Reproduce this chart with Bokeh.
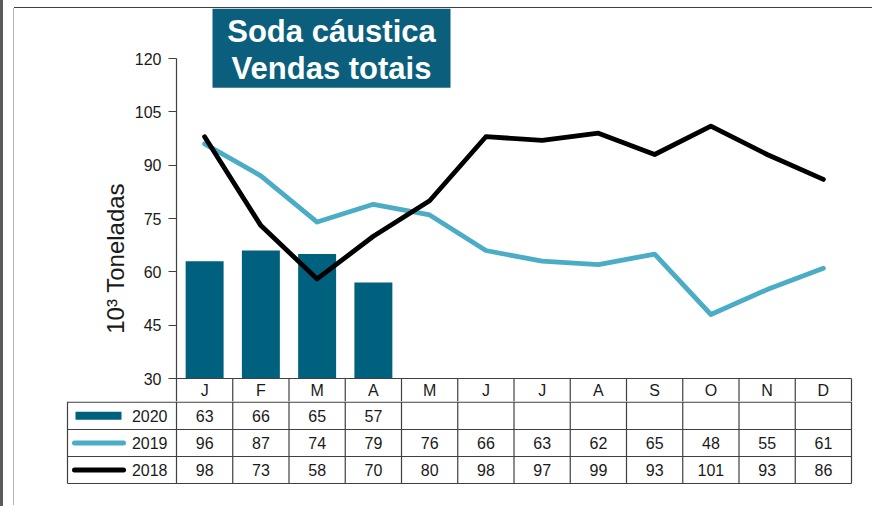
import numpy as np
from bokeh.plotting import figure
from bokeh.models import Range1d, FixedTicker, Div, Spacer
from bokeh.layouts import column, row
from bokeh.embed import file_html
from bokeh.resources import INLINE
from bokeh.core.properties import value

# ---------------- data ----------------
months = ["J", "F", "M", "A", "M", "J", "J", "A", "S", "O", "N", "D"]
sales_2020 = [63, 66, 65, 57]
sales_2019 = [96, 87, 74, 79, 76, 66, 63, 62, 65, 48, 55, 61]
sales_2018 = [98, 73, 58, 70, 80, 98, 97, 99, 93, 101, 93, 86]
years = ["2020", "2019", "2018"]
y_ticks = [30, 45, 60, 75, 90, 105, 120]
title_lines = ["Soda cáustica", "Vendas totais"]
y_label = "10³ Toneladas"

# ---------------- style ----------------
FONT = "Liberation Sans"
TEAL = "#00617f"
TITLE_BG = "#0b5f7c"
LIGHT = "#4bacc6"
DARK = "#000000"
RULE = "#404040"
TXT = "#1a1a1a"
FS = "16px"

PX_X = 56.25            # pixels per month
PX_Y = 320 / 90         # pixels per y unit
xc = np.arange(len(months)) + 0.5
PAGE_L = 14             # page x where the figures start
PAGE_R = 872
AX_X = 176              # page x of y axis
FIG_W = PAGE_R - PAGE_L

def px2x(px):
    return (px - AX_X) / PX_X

# ---------------- chart (incl. month header row) ----------------
top_h = 393                      # page y 8 .. 401
y_end = 120 + 50 / PX_Y          # page y 8
y_start = 30 - 23 / PX_Y         # page y 401
p = figure(width=FIG_W, height=top_h, x_range=Range1d(0, px2x(PAGE_R)),
           y_range=Range1d(y_start, y_end),
           output_backend="svg", toolbar_location=None, x_axis_location=None,
           min_border_left=AX_X - PAGE_L, min_border_right=0,
           min_border_top=0, min_border_bottom=0, margin=0)
p.frame_align = False
p.outline_line_color = None
p.xgrid.visible = False
p.ygrid.visible = False

ax = p.yaxis[0]
ax.ticker = FixedTicker(ticks=y_ticks)
ax.bounds = (y_start, 120)
ax.major_tick_out = 8
ax.major_tick_in = 0
ax.minor_tick_line_color = None
ax.axis_line_color = RULE
ax.axis_line_width = 1.2
ax.major_tick_line_color = RULE
ax.major_label_text_font = FONT
ax.major_label_text_font_size = FS
ax.major_label_text_color = TXT
ax.major_label_standoff = 7
# non-breaking spaces shift the centred label down to where the original sits
ax.axis_label = y_label + "\u00a0" * 16
ax.axis_label_text_font = FONT
ax.axis_label_text_font_size = "24px"
ax.axis_label_text_font_style = "normal"
ax.axis_label_text_color = TXT
ax.axis_label_standoff = 3

p.vbar(x=xc[:len(sales_2020)], top=sales_2020, bottom=30, width=0.675,
       fill_color=TEAL, line_color=None)
p.line(xc, sales_2019, line_color=LIGHT, line_width=4.8, line_cap="round", line_join="round")
p.line(xc, sales_2018, line_color=DARK, line_width=4.8, line_cap="round", line_join="round")

# title box
p.quad(left=[px2x(212)], right=[px2x(450)], top=[y_end], bottom=[111.8],
       fill_color=TITLE_BG, line_color=None)
p.text(x=[px2x(331)] * 2, y=[127.6, 117.2], text=title_lines, text_align="center",
       text_baseline="middle", text_font=value(FONT), text_font_style="bold",
       text_font_size="31px", text_color="white")

# month header row of the data table
p.segment(x0=[0], y0=[30], x1=[12], y1=[30], line_color=RULE, line_width=1.2)
hv = list(range(1, 13))
p.segment(x0=hv, y0=[30] * 12, x1=hv, y1=[y_start] * 12, line_color=RULE, line_width=1.2)
p.text(x=xc, y=[30 - 11.5 / PX_Y] * 12, text=months, text_align="center", text_baseline="middle",
       text_font=value(FONT), text_font_size=FS, text_color=TXT)

# ---------------- data table body ----------------
tab_h = 104                      # page y 401 .. 505
t = figure(width=FIG_W, height=tab_h, x_range=Range1d(px2x(PAGE_L), px2x(PAGE_R)),
           y_range=Range1d(tab_h, 0),
           output_backend="svg", toolbar_location=None, x_axis_location=None,
           y_axis_location=None, min_border=0, margin=0)
t.frame_align = False
t.outline_line_color = None
t.xgrid.visible = False
t.ygrid.visible = False

row_edges = [0.6, 28, 55, 82]
row_mid = [(row_edges[i] + row_edges[i + 1]) / 2 for i in range(3)]
leg_left = px2x(67)

t.segment(x0=[leg_left] * 4, y0=row_edges, x1=[12] * 4, y1=row_edges, line_color=RULE, line_width=1.2)
vx = list(range(13)) + [leg_left]
t.segment(x0=vx, y0=[0] * 14, x1=vx, y1=[row_edges[-1]] * 14, line_color=RULE, line_width=1.2)

for r, vals in enumerate([sales_2020, sales_2019, sales_2018]):
    t.text(x=xc[:len(vals)], y=[row_mid[r]] * len(vals), text=[str(v) for v in vals],
           text_align="center", text_baseline="middle", text_font=value(FONT),
           text_font_size=FS, text_color=TXT)

# legend keys
t.text(x=[px2x(167)] * 3, y=row_mid, text=years, text_align="right", text_baseline="middle",
       text_font=value(FONT), text_font_size=FS, text_color=TXT)
t.segment(x0=[px2x(75)], y0=[row_mid[0]], x1=[px2x(121)], y1=[row_mid[0]],
          line_color=TEAL, line_width=8)
t.segment(x0=[px2x(74)], y0=[row_mid[1]], x1=[px2x(123)], y1=[row_mid[1]],
          line_color=LIGHT, line_width=5, line_cap="round")
t.segment(x0=[px2x(74)], y0=[row_mid[2]], x1=[px2x(123)], y1=[row_mid[2]],
          line_color=DARK, line_width=5, line_cap="round")

# ---------------- outer picture frame lines ----------------
dark_edge = Div(text="", width=3, height=506, margin=0, styles={"background-color": "#5a5a5a"})
gap = Spacer(width=10, height=506, margin=0)
gray_edge = column(Spacer(width=1, height=8, margin=0),
                   Div(text="", width=1, height=497, margin=0, styles={"background-color": "#b4b4b4"}),
                   spacing=0, margin=0)
top_rule = Div(text="", width=FIG_W, height=1, margin=0, styles={"background-color": "#404040"})
main = column(Spacer(width=FIG_W, height=7, margin=0), top_rule, p, t, spacing=0, margin=0)

layout = row(dark_edge, gap, gray_edge, main, spacing=0, margin=0)

open("out.html", "w").write(file_html(layout, INLINE))
